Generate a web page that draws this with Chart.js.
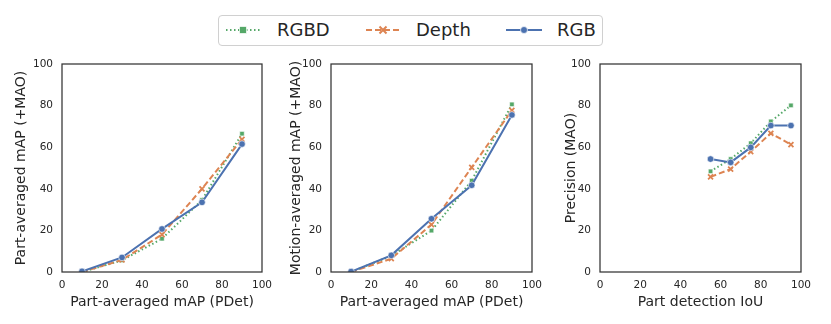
<!DOCTYPE html>
<html>
<head>
<meta charset="utf-8">
<script src="https://cdn.jsdelivr.net/npm/chart.js@4"></script>
<style>
  body { margin: 0; background: #fff; width: 831px; height: 324px; position: relative; overflow: hidden; font-family: "DejaVu Sans", sans-serif; }
  .panel { position: absolute; top: 0; height: 324px; }
  .legend { position: absolute; left: 218px; top: 15px; width: 385px; height: 31px; border: 1px solid #d0d0d0; border-radius: 4px; box-sizing: border-box; }
  .legend svg { position: absolute; top: 8px; }
  .legend span { position: absolute; top: 3px; font-size: 18px; line-height: 22px; color: #262626; }
</style>
</head>
<body>
<div class="legend">
  <svg style="left:6px" width="36" height="12"><line x1="1" y1="6" x2="35" y2="6" stroke="#55A868" stroke-width="2" stroke-dasharray="1.5 2.5"/><rect x="14.5" y="2.5" width="7" height="7" fill="#55A868" stroke="#fff" stroke-width="0.7"/></svg>
  <span style="left:58px">RGBD</span>
  <svg style="left:146px" width="36" height="12"><line x1="1" y1="6" x2="35" y2="6" stroke="#DD8452" stroke-width="2" stroke-dasharray="6 3"/><path d="M14.5 2.5 L21.5 9.5 M21.5 2.5 L14.5 9.5" stroke="#DD8452" stroke-width="2"/></svg>
  <span style="left:197px">Depth</span>
  <svg style="left:286px" width="38" height="12"><line x1="1" y1="6" x2="37" y2="6" stroke="#4C72B0" stroke-width="2"/><circle cx="19" cy="6" r="3.5" fill="#4C72B0" stroke="#fff" stroke-width="0.7"/></svg>
  <span style="left:338px">RGB</span>
</div>
<div class="panel" style="left:0;width:275px"><canvas id="c1"></canvas></div>
<div class="panel" style="left:275px;width:275px"><canvas id="c2"></canvas></div>
<div class="panel" style="left:550px;width:281px"><canvas id="c3"></canvas></div>
<script>
// x positions
const pdetLevels = [10, 30, 50, 70, 90];
const iouLevels = [55, 65, 75, 85, 95];
const axisTicks = [0, 20, 40, 60, 80, 100];

// part-averaged mAP (+MAO)
const partRGBD = [0, 5.6, 16, 34.6, 66.5];
const partDepth = [0, 5.8, 18, 40, 63.8];
const partRGB = [0.3, 7, 20.7, 33.5, 61.5];

// motion-averaged mAP (+MAO)
const motionRGBD = [0, 7.8, 19.9, 43.9, 80.6];
const motionDepth = [0, 6.4, 22.8, 50.3, 77.7];
const motionRGB = [0.2, 8, 25.6, 41.7, 75.5];

// precision (MAO)
const precRGBD = [48.4, 54.3, 61.9, 72.4, 80.1];
const precDepth = [45.7, 49.5, 57.9, 66.7, 61.2];
const precRGB = [54.3, 52.7, 59.9, 70.4, 70.4];

const green = '#55A868', orange = '#DD8452', blue = '#4C72B0';
const ink = '#262626';

function pts(xs, ys) {
    return xs.map((x, i) => ({ x: x, y: ys[i] }));
}

// frame around the plot like matplotlib spines
const framePlugin = {
    id: 'frame',
    afterDraw(chart) {
        const a = chart.chartArea;
        const c = chart.ctx;
        c.save();
        c.strokeStyle = '#333';
        c.lineWidth = 1.25;
        c.strokeRect(a.left, a.top, a.right - a.left, a.bottom - a.top);
        c.restore();
    }
};

function makeChart(id, xs, rgbd, depth, rgb, yTitle, xTitle, yWidth, padRight) {
    new Chart(document.getElementById(id), {
        type: 'line',
        data: {
            datasets: [
                {
                    label: 'RGBD', data: pts(xs, rgbd), order: 3,
                    borderColor: green, backgroundColor: green, borderWidth: 2, borderDash: [1.5, 2.5],
                    pointStyle: 'rect', pointRadius: 3.2, pointBorderColor: '#fff', pointBorderWidth: 0.6
                },
                {
                    label: 'Depth', data: pts(xs, depth), order: 2,
                    borderColor: orange, backgroundColor: orange, borderWidth: 2, borderDash: [6, 3],
                    pointStyle: 'crossRot', pointRadius: 3.5, pointBorderColor: orange, pointBorderWidth: 1.8
                },
                {
                    label: 'RGB', data: pts(xs, rgb), order: 1,
                    borderColor: blue, backgroundColor: blue, borderWidth: 2,
                    pointStyle: 'circle', pointRadius: 3.3, pointBorderColor: '#fff', pointBorderWidth: 0.6
                }
            ]
        },
        options: {
            responsive: true,
            maintainAspectRatio: false,
            animation: false,
            layout: { padding: { top: 64, right: padRight, bottom: 0, left: 0 } },
            plugins: { legend: { display: false }, tooltip: { enabled: false } },
            scales: {
                x: {
                    type: 'linear', min: 0, max: 100,
                    afterBuildTicks: (s) => { s.ticks = axisTicks.map(v => ({ value: v })); },
                    afterFit: (s) => { s.height = 52; s.paddingLeft = 0; s.paddingRight = 0; },
                    grid: { display: false, drawTicks: false },
                    border: { display: false },
                    ticks: { color: ink, padding: 7, font: { family: 'DejaVu Sans', size: 10.5 }, maxRotation: 0 },
                    title: { display: true, text: xTitle, color: ink, padding: { top: 0, bottom: 13.5 }, font: { family: 'DejaVu Sans', size: 14 } }
                },
                y: {
                    min: 0, max: 100,
                    afterBuildTicks: (s) => { s.ticks = axisTicks.map(v => ({ value: v })); },
                    afterFit: (s) => { s.width = yWidth; s.paddingTop = 0; s.paddingBottom = 0; },
                    grid: { display: false, drawTicks: false },
                    border: { display: false },
                    ticks: { color: ink, padding: 9, font: { family: 'DejaVu Sans', size: 10.5 } },
                    title: { display: true, text: yTitle, color: ink, padding: { top: 12.5, bottom: 0 }, font: { family: 'DejaVu Sans', size: 14 } }
                }
            }
        },
        plugins: [framePlugin]
    });
}

makeChart('c1', pdetLevels, partRGBD, partDepth, partRGB, 'Part-averaged mAP (+MAO)', 'Part-averaged mAP (PDet)', 62, 13);
makeChart('c2', pdetLevels, motionRGBD, motionDepth, motionRGB, 'Motion-averaged mAP (+MAO)', 'Part-averaged mAP (PDet)', 56, 18);
makeChart('c3', iouLevels, precRGBD, precDepth, precRGB, 'Precision (MAO)', 'Part detection IoU', 50, 30);
</script>
</body>
</html>
